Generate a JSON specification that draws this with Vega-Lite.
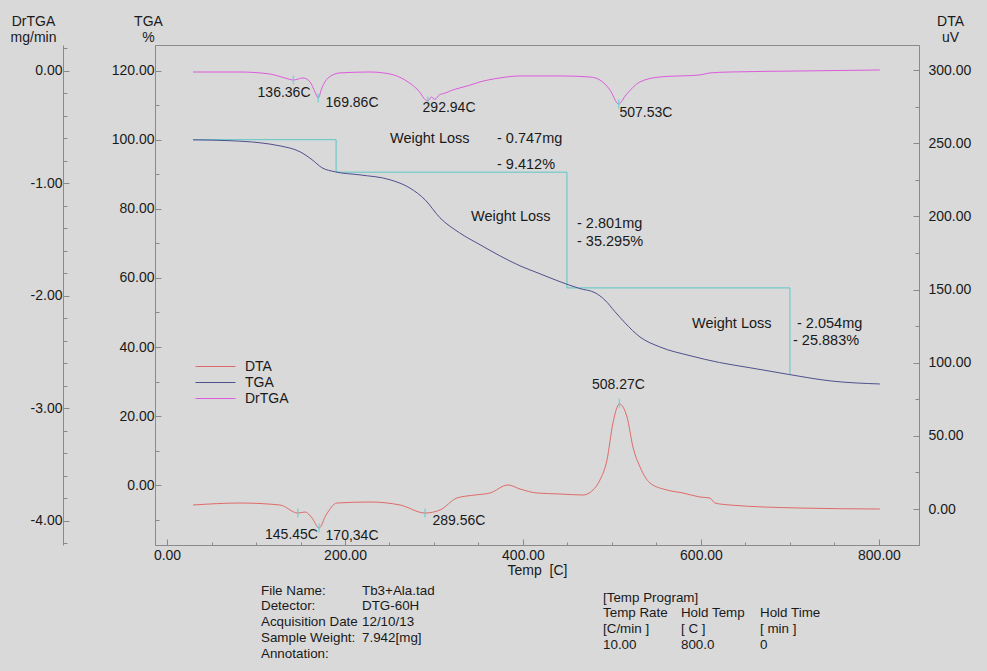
{
  "$schema": "https://vega.github.io/schema/vega-lite/v6.json",
  "width": 764,
  "height": 500,
  "autosize": {"type": "none"},
  "padding": {"left": 155, "top": 45, "right": 68, "bottom": 126},
  "background": "#d9d9d9",
  "config": {
    "view": {"stroke": "#8a8a8a", "strokeWidth": 1},
    "font": "Liberation Sans",
    "axis": {"domainColor": "#8a8a8a", "tickColor": "#8a8a8a", "labelColor": "#1a1a1a", "labelFontSize": 14, "labelFont": "Liberation Sans", "titleFont": "Liberation Sans", "titleFontSize": 14, "titleFontWeight": "normal", "titleColor": "#1a1a1a", "grid": false, "labelOverlap": false, "labelFlush": false, "domainWidth": 1, "tickWidth": 1},
    "legend": {"orient": "none", "legendX": 52, "legendY": 313, "title": null, "symbolType": "M-2.5,0H2.5", "symbolSize": 256, "symbolStrokeWidth": 1, "symbolFillColor": "transparent", "labelFontSize": 14, "labelOffset": 21, "rowPadding": 0, "padding": 0, "labelColor": "#1a1a1a", "labelFont": "Liberation Sans"},
    "text": {"font": "Liberation Sans", "fontSize": 14, "color": "#1a1a1a"}
  },
  "datasets": {
    "curves": [
      {"s": "TGA", "T": 29.2, "v": 99.95}, {"s": "TGA", "T": 70.8, "v": 99.7}, {"s": "TGA", "T": 104.5, "v": 99.1}, {"s": "TGA", "T": 127, "v": 98.2}, {"s": "TGA", "T": 149.4, "v": 96.5}, {"s": "TGA", "T": 163, "v": 94.2}, {"s": "TGA", "T": 174, "v": 91.9}, {"s": "TGA", "T": 189, "v": 90.7}, {"s": "TGA", "T": 217, "v": 89.8}, {"s": "TGA", "T": 250.6, "v": 88.4}, {"s": "TGA", "T": 273, "v": 86.0}, {"s": "TGA", "T": 290, "v": 82.6}, {"s": "TGA", "T": 306.7, "v": 77.4}, {"s": "TGA", "T": 329, "v": 73.0}, {"s": "TGA", "T": 351.7, "v": 69.6}, {"s": "TGA", "T": 374, "v": 66.4}, {"s": "TGA", "T": 396.6, "v": 63.5}, {"s": "TGA", "T": 419, "v": 61.2}, {"s": "TGA", "T": 441.6, "v": 58.9}, {"s": "TGA", "T": 464, "v": 56.9}, {"s": "TGA", "T": 481, "v": 55.7}, {"s": "TGA", "T": 492, "v": 53.6}, {"s": "TGA", "T": 503.4, "v": 50.2}, {"s": "TGA", "T": 514.6, "v": 47.0}, {"s": "TGA", "T": 531.5, "v": 42.9}, {"s": "TGA", "T": 554, "v": 40.0}, {"s": "TGA", "T": 587.6, "v": 37.5}, {"s": "TGA", "T": 621, "v": 35.5}, {"s": "TGA", "T": 655, "v": 34.0}, {"s": "TGA", "T": 700, "v": 32.0}, {"s": "TGA", "T": 745, "v": 30.2}, {"s": "TGA", "T": 801, "v": 29.3},
      {"s": "DrTGA", "T": 29.2, "v": -0.012}, {"s": "DrTGA", "T": 82, "v": -0.012}, {"s": "DrTGA", "T": 115.7, "v": -0.03}, {"s": "DrTGA", "T": 132.6, "v": -0.065}, {"s": "DrTGA", "T": 142, "v": -0.083}, {"s": "DrTGA", "T": 152.8, "v": -0.065}, {"s": "DrTGA", "T": 160.7, "v": -0.1}, {"s": "DrTGA", "T": 166.3, "v": -0.19}, {"s": "DrTGA", "T": 169.9, "v": -0.243}, {"s": "DrTGA", "T": 174, "v": -0.155}, {"s": "DrTGA", "T": 181, "v": -0.065}, {"s": "DrTGA", "T": 194.4, "v": -0.02}, {"s": "DrTGA", "T": 228, "v": -0.012}, {"s": "DrTGA", "T": 250.6, "v": -0.03}, {"s": "DrTGA", "T": 267.4, "v": -0.083}, {"s": "DrTGA", "T": 282, "v": -0.172}, {"s": "DrTGA", "T": 292.9, "v": -0.27}, {"s": "DrTGA", "T": 297, "v": -0.235}, {"s": "DrTGA", "T": 301, "v": -0.255}, {"s": "DrTGA", "T": 306, "v": -0.215}, {"s": "DrTGA", "T": 312.4, "v": -0.2}, {"s": "DrTGA", "T": 320, "v": -0.175}, {"s": "DrTGA", "T": 329, "v": -0.154}, {"s": "DrTGA", "T": 340, "v": -0.13}, {"s": "DrTGA", "T": 351.7, "v": -0.1}, {"s": "DrTGA", "T": 374, "v": -0.065}, {"s": "DrTGA", "T": 396.6, "v": -0.047}, {"s": "DrTGA", "T": 441.6, "v": -0.047}, {"s": "DrTGA", "T": 475, "v": -0.056}, {"s": "DrTGA", "T": 486.5, "v": -0.083}, {"s": "DrTGA", "T": 497.8, "v": -0.172}, {"s": "DrTGA", "T": 507.5, "v": -0.296}, {"s": "DrTGA", "T": 515.7, "v": -0.216}, {"s": "DrTGA", "T": 531.5, "v": -0.1}, {"s": "DrTGA", "T": 554, "v": -0.056}, {"s": "DrTGA", "T": 599, "v": -0.038}, {"s": "DrTGA", "T": 610, "v": -0.02}, {"s": "DrTGA", "T": 632.6, "v": -0.012}, {"s": "DrTGA", "T": 711, "v": -0.003}, {"s": "DrTGA", "T": 801, "v": 0.006},
      {"s": "DTA", "T": 29.2, "v": 2.73}, {"s": "DTA", "T": 82, "v": 4.10}, {"s": "DTA", "T": 127, "v": 2.73}, {"s": "DTA", "T": 147, "v": -2.75}, {"s": "DTA", "T": 155, "v": -2.06}, {"s": "DTA", "T": 163, "v": -6.17}, {"s": "DTA", "T": 170.8, "v": -13.02}, {"s": "DTA", "T": 178.7, "v": -4.12}, {"s": "DTA", "T": 191, "v": 4.10}, {"s": "DTA", "T": 228, "v": 4.78}, {"s": "DTA", "T": 262, "v": 2.73}, {"s": "DTA", "T": 290, "v": -2.75}, {"s": "DTA", "T": 306.7, "v": -0.70}, {"s": "DTA", "T": 325.8, "v": 7.52}, {"s": "DTA", "T": 346, "v": 9.57}, {"s": "DTA", "T": 363, "v": 10.94}, {"s": "DTA", "T": 383, "v": 16.42}, {"s": "DTA", "T": 396.6, "v": 13.68}, {"s": "DTA", "T": 415.7, "v": 10.94}, {"s": "DTA", "T": 441.6, "v": 10.26}, {"s": "DTA", "T": 467.4, "v": 9.57}, {"s": "DTA", "T": 478.7, "v": 12.99}, {"s": "DTA", "T": 486.5, "v": 19.84}, {"s": "DTA", "T": 494.4, "v": 33.53}, {"s": "DTA", "T": 501.1, "v": 58.77}, {"s": "DTA", "T": 508.3, "v": 71.77}, {"s": "DTA", "T": 516.9, "v": 62.87}, {"s": "DTA", "T": 523.6, "v": 42.34}, {"s": "DTA", "T": 531.5, "v": 28.74}, {"s": "DTA", "T": 542.7, "v": 17.79}, {"s": "DTA", "T": 561.8, "v": 12.99}, {"s": "DTA", "T": 579.8, "v": 10.94}, {"s": "DTA", "T": 598.9, "v": 8.20}, {"s": "DTA", "T": 610, "v": 7.52}, {"s": "DTA", "T": 615.7, "v": 4.10}, {"s": "DTA", "T": 632.6, "v": 2.73}, {"s": "DTA", "T": 711, "v": 0.67}, {"s": "DTA", "T": 801, "v": -0.01}
    ],
    "steps": [
      {"o": 1, "T": 29.2, "v": 100}, {"o": 2, "T": 190, "v": 100}, {"o": 3, "T": 190, "v": 90.6}, {"o": 4, "T": 449.4, "v": 90.6}, {"o": 5, "T": 449.4, "v": 57.1}, {"o": 6, "T": 700, "v": 57.1}, {"o": 7, "T": 700, "v": 32.0}
    ],
    "peaks": [
      {"s": "DrTGA", "T": 142, "v": -0.083}, {"s": "DrTGA", "T": 169.9, "v": -0.243}, {"s": "DrTGA", "T": 292.9, "v": -0.27}, {"s": "DrTGA", "T": 507.5, "v": -0.296},
      {"s": "DTA", "T": 147, "v": -2.75}, {"s": "DTA", "T": 170.8, "v": -13.02}, {"s": "DTA", "T": 290, "v": -2.75}, {"s": "DTA", "T": 508.3, "v": 72.36}
    ],
    "labels": [
      {"s": "DrTGA", "T": 131.5, "v": -0.198, "text": "136.36C"}, {"s": "DrTGA", "T": 207.9, "v": -0.287, "text": "169.86C"}, {"s": "DrTGA", "T": 316.9, "v": -0.332, "text": "292.94C"}, {"s": "DrTGA", "T": 538.2, "v": -0.376, "text": "507.53C"},
      {"s": "DTA", "T": 507.3, "v": 84.78, "text": "508.27C"}, {"s": "DTA", "T": 139.9, "v": -17.81, "text": "145.45C"}, {"s": "DTA", "T": 207.9, "v": -18.5, "text": "170,34C"}, {"s": "DTA", "T": 328, "v": -8.23, "text": "289.56C"},
      {"s": "TGA", "T": 250.6, "v": 100.2, "text": "Weight Loss"}, {"s": "TGA", "T": 370.8, "v": 100.2, "text": "- 0.747mg"}, {"s": "TGA", "T": 370.8, "v": 92.7, "text": "- 9.412%"},
      {"s": "TGA", "T": 341.6, "v": 77.7, "text": "Weight Loss"}, {"s": "TGA", "T": 460.7, "v": 75.6, "text": "- 2.801mg"}, {"s": "TGA", "T": 460.7, "v": 70.4, "text": "- 35.295%"},
      {"s": "TGA", "T": 589.9, "v": 46.7, "text": "Weight Loss"}, {"s": "TGA", "T": 707.9, "v": 46.7, "text": "- 2.054mg"}, {"s": "TGA", "T": 703.4, "v": 41.8, "text": "- 25.883%"},
      {"s": "footer", "T": 105.6, "v": -30.6, "text": "File Name:"}, {"s": "footer", "T": 219.1, "v": -30.6, "text": "Tb3+Ala.tad"},
      {"s": "footer", "T": 105.6, "v": -34.9, "text": "Detector:"}, {"s": "footer", "T": 219.1, "v": -34.9, "text": "DTG-60H"},
      {"s": "footer", "T": 105.6, "v": -39.6, "text": "Acquisition Date"}, {"s": "footer", "T": 219.1, "v": -39.6, "text": "12/10/13"},
      {"s": "footer", "T": 105.6, "v": -44.2, "text": "Sample Weight:"}, {"s": "footer", "T": 219.1, "v": -44.2, "text": "7.942[mg]"},
      {"s": "footer", "T": 105.6, "v": -48.8, "text": "Annotation:"},
      {"s": "footer", "T": 489.9, "v": -32.6, "text": "[Temp Program]"},
      {"s": "footer", "T": 489.9, "v": -37.0, "text": "Temp Rate"}, {"s": "footer", "T": 577.5, "v": -37.0, "text": "Hold Temp"}, {"s": "footer", "T": 666.3, "v": -37.0, "text": "Hold Time"},
      {"s": "footer", "T": 489.9, "v": -41.6, "text": "[C/min ]"}, {"s": "footer", "T": 577.5, "v": -41.6, "text": "[ C ]"}, {"s": "footer", "T": 666.3, "v": -41.6, "text": "[ min ]"},
      {"s": "footer", "T": 489.9, "v": -46.2, "text": "10.00"}, {"s": "footer", "T": 577.5, "v": -46.2, "text": "800.0"}, {"s": "footer", "T": 666.3, "v": -46.2, "text": "0"}
    ]
  },
  "encoding": {
    "x": {"field": "T", "type": "quantitative", "scale": {"domain": [-13.5, 845], "nice": false, "zero": false},
      "axis": {"values": [0, 50, 100, 150, 200, 250, 300, 350, 400, 450, 500, 550, 600, 650, 700, 750, 800],
        "labelExpr": "datum.value % 200 == 0 ? format(datum.value, '.2f') : ''",
        "tickSize": {"condition": {"test": "datum.value % 200 == 0", "value": -6}, "value": -3},
        "labelPadding": 9, "title": "Temp\u00a0 [C]", "titleY": 25, "titleBaseline": "middle"}}
  },
  "layer": [
    {
      "encoding": {
        "y": {"field": "v", "type": "quantitative", "scale": {"domain": [-17.3, 127.4], "nice": false, "zero": false},
          "axis": {"orient": "left", "values": [-10, 0, 10, 20, 30, 40, 50, 60, 70, 80, 90, 100, 110, 120],
            "labelExpr": "datum.value % 20 == 0 ? format(datum.value, '.2f') : ''",
            "tickSize": {"condition": {"test": "datum.value % 20 == 0", "value": -6}, "value": -4},
            "labelPadding": 7, "title": ["TGA", "%"], "titleAngle": 0, "titleAlign": "center", "titleBaseline": "top", "titleX": -7, "titleY": -31, "titleLineHeight": 16}}
      },
      "layer": [
        {"data": {"name": "steps"}, "mark": {"type": "line", "color": "#5cc6c6", "strokeWidth": 1}, "encoding": {"order": {"field": "o"}}},
        {"data": {"name": "curves"}, "transform": [{"filter": "datum.s == 'TGA'"}], "mark": {"type": "line", "strokeWidth": 1, "interpolate": "monotone"},
          "encoding": {"color": {"field": "s", "type": "nominal", "scale": {"domain": ["DTA", "TGA", "DrTGA"], "range": ["#e06a6a", "#50508f", "#dc5cdc"]}}}},
        {"data": {"name": "labels"}, "transform": [{"filter": "datum.s == 'TGA'"}], "mark": {"type": "text", "align": "left", "baseline": "middle", "fontSize": 14.5}, "encoding": {"text": {"field": "text"}}},
        {"data": {"name": "labels"}, "transform": [{"filter": "datum.s == 'footer'"}], "mark": {"type": "text", "align": "left", "baseline": "middle", "fontSize": 13.4}, "encoding": {"text": {"field": "text"}}}
      ]
    },
    {
      "encoding": {
        "y": {"field": "v", "type": "quantitative", "scale": {"domain": [-4.216, 0.228], "nice": false, "zero": false},
          "axis": {"orient": "left", "offset": 92, "values": [0.2, 0, -0.2, -0.4, -0.6, -0.8, -1, -1.2, -1.4, -1.6, -1.8, -2, -2.2, -2.4, -2.6, -2.8, -3, -3.2, -3.4, -3.6, -3.8, -4, -4.2],
            "labelExpr": "abs(datum.value - round(datum.value)) < 0.001 ? replace(format(datum.value, '.2f'), '\u2212', '-') : ''",
            "tickSize": {"condition": {"test": "abs(datum.value - round(datum.value)) < 0.001", "value": -6}, "value": -4},
            "labelPadding": 7, "title": ["DrTGA", "mg/min"], "titleAngle": 0, "titleAlign": "center", "titleBaseline": "top", "titleX": -30, "titleY": -31, "titleLineHeight": 16}}
      },
      "layer": [
        {"data": {"name": "curves"}, "transform": [{"filter": "datum.s == 'DrTGA'"}], "mark": {"type": "line", "strokeWidth": 1, "interpolate": "monotone"},
          "encoding": {"color": {"field": "s", "type": "nominal", "scale": {"domain": ["DTA", "TGA", "DrTGA"], "range": ["#e06a6a", "#50508f", "#dc5cdc"]}}}},
        {"data": {"name": "peaks"}, "transform": [{"filter": "datum.s == 'DrTGA'"}], "mark": {"type": "tick", "orient": "vertical", "size": 9, "thickness": 1.5, "color": "#5fd0d0"}},
        {"data": {"name": "labels"}, "transform": [{"filter": "datum.s == 'DrTGA'"}], "mark": {"type": "text", "align": "center", "baseline": "middle"}, "encoding": {"text": {"field": "text"}}}
      ]
    },
    {
      "encoding": {
        "y": {"field": "v", "type": "quantitative", "scale": {"domain": [-24.6, 317.1], "nice": false, "zero": false},
          "axis": {"orient": "right", "values": [0, 25, 50, 75, 100, 125, 150, 175, 200, 225, 250, 275, 300],
            "labelExpr": "datum.value % 50 == 0 ? format(datum.value, '.2f') : ''",
            "tickSize": {"condition": {"test": "datum.value % 50 == 0", "value": -6}, "value": -4},
            "labelPadding": 15, "title": ["DTA", "uV"], "titleAngle": 0, "titleAlign": "center", "titleBaseline": "top", "titleX": 31, "titleY": -31, "titleLineHeight": 16}}
      },
      "layer": [
        {"data": {"name": "curves"}, "transform": [{"filter": "datum.s == 'DTA'"}], "mark": {"type": "line", "strokeWidth": 1, "interpolate": "monotone"},
          "encoding": {"color": {"field": "s", "type": "nominal", "scale": {"domain": ["DTA", "TGA", "DrTGA"], "range": ["#e06a6a", "#50508f", "#dc5cdc"]}}}},
        {"data": {"name": "peaks"}, "transform": [{"filter": "datum.s == 'DTA'"}], "mark": {"type": "tick", "orient": "vertical", "size": 9, "thickness": 1.5, "color": "#5fd0d0"}},
        {"data": {"name": "labels"}, "transform": [{"filter": "datum.s == 'DTA'"}], "mark": {"type": "text", "align": "center", "baseline": "middle"}, "encoding": {"text": {"field": "text"}}}
      ]
    }
  ],
  "resolve": {"scale": {"y": "independent"}, "axis": {"y": "independent"}}
}
